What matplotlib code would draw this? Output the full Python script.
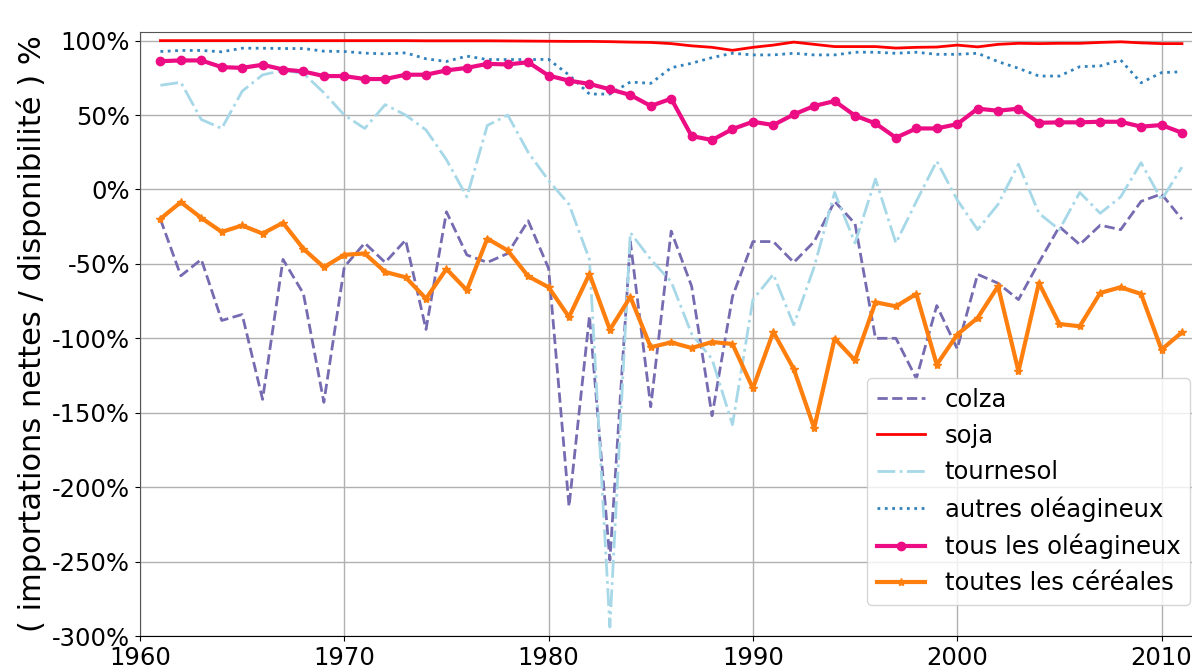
import matplotlib
matplotlib.use('Agg')
import matplotlib.pyplot as plt
from matplotlib.ticker import FuncFormatter

years = list(range(1961, 2012))

colza = [-20, -58, -47, -88, -84, -141, -47, -70, -143, -52,
         -36, -49, -34, -94, -15, -44, -49, -43, -21, -53,
         -213, -85, -249, -35, -146, -28, -65, -152, -72, -35,
         -35, -49, -35, -8, -23, -100, -100, -127, -78, -107,
         -57, -63, -74, -49, -25, -37, -24, -27, -8, -3, -20]

soja = [100, 100, 100, 100, 100, 100, 100, 100, 100, 100,
        100, 100, 100, 99.9, 99.9, 99.9, 99.9, 99.8, 99.7, 99.6,
        99.5, 99.5, 99.3, 99, 98.8, 98, 96.5, 95.5, 93.5, 95.5,
        97, 99, 97.5, 96, 96, 96, 95, 95.5, 95.7, 97,
        95.8, 97.5, 98.2, 98, 98.2, 98.2, 98.8, 99.2, 98.5, 98, 98]

tournesol = [70, 72, 47, 41, 66, 77, 80, 78, 65, 50,
             41, 57, 50, 40, 20, -5, 43, 50, 25, 6,
             -10, -47, -294, -29, -47, -62, -97, -114, -158, -74,
             -57, -91, -52, -2, -36, 7, -36, -8, 19, -7,
             -27, -10, 17, -16, -27, -2, -16, -5, 18, -7, 15]

autres = [92.7, 93.4, 93.4, 92.5, 94.9, 94.9, 94.7, 94.7, 92.9, 92.7,
          91.6, 91.1, 91.8, 87.8, 86, 89.6, 87.3, 87.3, 87.3, 87.4,
          76.9, 64.1, 64.1, 72.2, 71.3, 81.8, 84.8, 88.6, 91.5, 90.4,
          90.4, 91.5, 90.4, 90.4, 92.2, 92.2, 91.5, 92.2, 90.8, 90.8,
          91.5, 85.9, 81.4, 76.2, 76.2, 82.5, 83, 87, 71.7, 78.5, 79.1]

tous_oleagineux = [86.2, 86.7, 86.7, 82.2, 81.7, 83.8, 80.6, 79.3, 76.2, 76.2,
                   74.2, 74.2, 77.1, 77.1, 80, 81.7, 84.4, 84, 85.5, 76.5,
                   73.1, 70.9, 67.3, 63.5, 56.1, 61, 35.9, 33.2, 40.6, 45.5,
                   43.3, 50.4, 56.1, 59.4, 49.6, 44.4, 34.8, 41, 41, 43.9,
                   54.3, 52.9, 54.3, 44.8, 45.1, 45.1, 45.5, 45.5, 42.2, 43.3, 38.1]

cereales = [-19.7, -8.5, -19.1, -28.5, -24.2, -29.6, -22.4, -39.9, -52.2, -43.9,
            -43, -55.4, -59, -73.3, -53.4, -67.7, -33, -41, -58.3, -65.7,
            -85.7, -56.7, -94.2, -72.2, -106, -102.7, -106.5, -102.5, -103.8, -133.6,
            -95.7, -120.6, -160.3, -100.2, -114.8, -75.8, -78.5, -70.2, -117.7, -97.5,
            -86.3, -65, -122.2, -62.8, -90.4, -91.9, -69.5, -65.7, -70.2, -107.6, -96]

fig = plt.figure(figsize=(11.92, 6.65), dpi=100)
ax = fig.add_axes([140 / 1192, 29 / 665, 1065 / 1192, 604 / 665])

ax.plot(years, colza, '--', color='#756bb1', lw=2, label='colza')
ax.plot(years, soja, '-', color='#ff0000', lw=2, label='soja')
ax.plot(years, tournesol, '-.', color='#a6d8e8', lw=2, label='tournesol')
ax.plot(years, autres, ':', color='#3182bd', lw=2, label='autres oléagineux')
ax.plot(years, tous_oleagineux, '-', color='#ec0c83', lw=3, marker='o', ms=6,
        label='tous les oléagineux')
ax.plot(years, cereales, '-', color='#ff7f0e', lw=3, marker='*', ms=6,
        label='toutes les céréales')

ax.set_xlim(1960, 1960 + 1065 / 20.43)
ax.set_ylim(-300, 105.8)
ax.set_xticks([1960, 1970, 1980, 1990, 2000, 2010])
ax.set_yticks(range(-300, 101, 50))
ax.yaxis.set_major_formatter(FuncFormatter(lambda v, p: '%d%%' % v))
ax.tick_params(labelsize=17.5)
ax.grid(True, color='#b0b0b0', lw=1)
ax.set_axisbelow(True)
for s in ax.spines.values():
    s.set_color('#555555')
ax.spines['bottom'].set_color('black')

ax.set_ylabel('( importations nettes / disponibilité ) %', fontsize=22, labelpad=4)

ax.legend(loc='lower right', bbox_to_anchor=(0.986, 0.051), borderaxespad=0,
          fontsize=17.5, framealpha=0.8)

fig.savefig('out.png', dpi=100)
